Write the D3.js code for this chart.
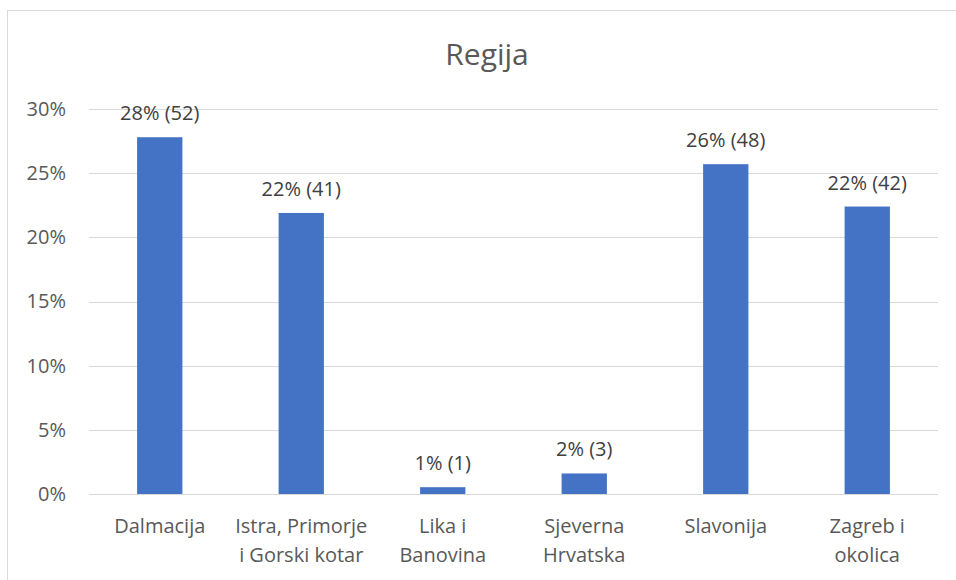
<!DOCTYPE html>
<html>
<head>
<meta charset="utf-8">
<script src="https://cdn.jsdelivr.net/npm/d3@7"></script>
<style>
  body { margin: 0; background: #fff; }
  text { font-family: "Open Sans", sans-serif; }
</style>
</head>
<body>
<div id="chart"></div>
<script>
// data
const regions = [
  ["Dalmacija"],
  ["Istra, Primorje", "i Gorski kotar"],
  ["Lika i", "Banovina"],
  ["Sjeverna", "Hrvatska"],
  ["Slavonija"],
  ["Zagreb i", "okolica"]
];
const shares = [27.8, 21.9, 0.53, 1.6, 25.7, 22.4];
const counts = [52, 41, 1, 3, 48, 42];
const yTicks = [0, 5, 10, 15, 20, 25, 30];

const W = 956, H = 580;
const margin = {top: 109, right: 18, bottom: 86, left: 89};
const width = W - margin.left - margin.right,
      height = H - margin.top - margin.bottom;

const root = d3.select("#chart").append("svg")
    .attr("width", W)
    .attr("height", H);

// chart frame (cut by the window on the right and bottom)
root.append("rect")
    .attr("x", 7.5).attr("y", 10.5)
    .attr("width", 1200).attr("height", 1200)
    .attr("fill", "none")
    .attr("stroke", "#d9d9d9");

root.append("text")
    .attr("x", 487)
    .attr("y", 65)
    .attr("text-anchor", "middle")
    .attr("font-size", 30)
    .attr("fill", "#595959")
    .text("Regija");

const svg = root.append("g")
    .attr("transform", `translate(${margin.left},${margin.top})`);

const x = d3.scaleBand()
    .domain(d3.range(regions.length))
    .range([0, width])
    .paddingInner(0.68)
    .paddingOuter(0.34);

const y = d3.scaleLinear()
    .domain([0, 30])
    .range([height, 0]);

// gridlines
svg.selectAll("line.grid")
  .data(yTicks)
  .join("line")
    .attr("class", "grid")
    .attr("x1", 0).attr("x2", width)
    .attr("y1", d => Math.round(y(d)) + 0.5)
    .attr("y2", d => Math.round(y(d)) + 0.5)
    .attr("stroke", "#d9d9d9")
    .attr("stroke-width", 1);

// y labels
const yAxis = svg.append("g")
    .call(d3.axisLeft(y).tickValues(yTicks).tickFormat(d => d + "%").tickSize(0).tickPadding(23));
yAxis.select(".domain").remove();
yAxis.selectAll("text")
    .attr("font-size", 20)
    .attr("fill", "#595959")
    .attr("font-family", "Open Sans, sans-serif");

// bars
svg.selectAll("rect.bar")
  .data(shares)
  .join("rect")
    .attr("class", "bar")
    .attr("x", (d, i) => x(i))
    .attr("width", x.bandwidth())
    .attr("y", d => y(d))
    .attr("height", d => height - y(d))
    .attr("fill", "#4472c4");

// data labels
svg.selectAll("text.lbl")
  .data(shares)
  .join("text")
    .attr("class", "lbl")
    .attr("x", (d, i) => x(i) + x.bandwidth() / 2)
    .attr("y", d => y(d) - 17)
    .attr("text-anchor", "middle")
    .attr("font-size", 20)
    .attr("fill", "#404040")
    .text((d, i) => `${Math.round(d)}% (${counts[i]})`);

// category labels
const cat = svg.selectAll("text.cat")
  .data(regions)
  .join("text")
    .attr("class", "cat")
    .attr("x", (d, i) => x(i) + x.bandwidth() / 2)
    .attr("y", height + 39)
    .attr("text-anchor", "middle")
    .attr("font-size", 20)
    .attr("fill", "#595959");
cat.selectAll("tspan")
  .data(d => d)
  .join("tspan")
    .attr("x", function() { return this.parentNode.getAttribute("x"); })
    .attr("dy", (d, i) => i === 0 ? 0 : 29)
    .text(d => d);
</script>
</body>
</html>
